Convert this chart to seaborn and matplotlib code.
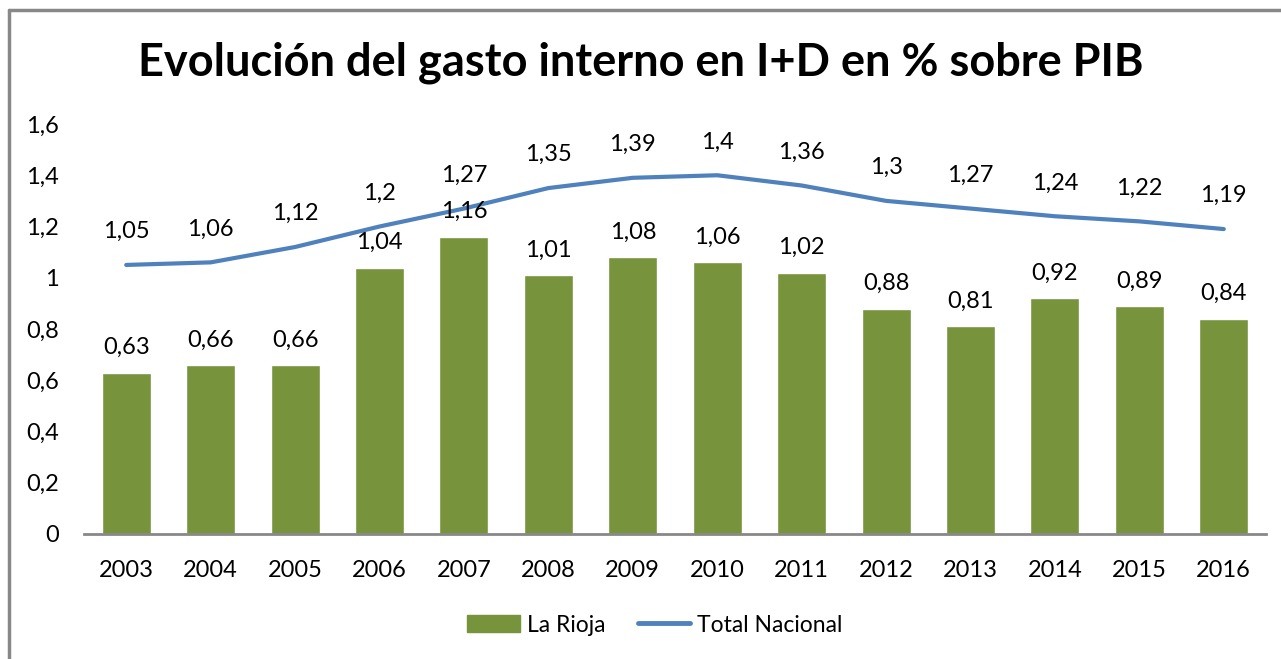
import matplotlib
matplotlib.use("Agg")
import matplotlib.pyplot as plt
import seaborn as sns
import pandas as pd
from matplotlib.patches import Patch
from matplotlib.lines import Line2D

# datos
years = ["2003", "2004", "2005", "2006", "2007", "2008", "2009",
         "2010", "2011", "2012", "2013", "2014", "2015", "2016"]
la_rioja = [0.63, 0.66, 0.66, 1.04, 1.16, 1.01, 1.08, 1.06, 1.02, 0.88, 0.81, 0.92, 0.89, 0.84]
total_nacional = [1.05, 1.06, 1.12, 1.2, 1.27, 1.35, 1.39, 1.4, 1.36, 1.3, 1.27, 1.24, 1.22, 1.19]

green = "#77933C"
blue = "#4F81BD"

df = pd.DataFrame({"year": years, "rioja": la_rioja, "total": total_nacional})

sns.set_style("white")
plt.rcParams['font.family'] = ['Lato', 'DejaVu Sans']

fig = plt.figure(figsize=(12.81, 6.59), dpi=100)
ax = fig.add_axes([84 / 1281, 1 - 534 / 659, (1266 - 84) / 1281, (534 - 124) / 659])

sns.barplot(data=df, x="year", y="rioja", color=green, width=0.58, saturation=1, ax=ax)
sns.lineplot(data=df, x="year", y="total", color=blue, linewidth=3, ax=ax)

ax.set_ylim(0, 1.6)
ax.set_xlim(-0.5, len(years) - 0.5)
ax.set_yticks([0, 0.2, 0.4, 0.6, 0.8, 1, 1.2, 1.4, 1.6])
ax.set_yticklabels(["0", "0,2", "0,4", "0,6", "0,8", "1", "1,2", "1,4", "1,6"])
ax.set_xlabel("")
ax.set_ylabel("")
ax.tick_params(axis="both", length=0, labelsize=17, colors="#000000")
ax.tick_params(axis="y", pad=18)
ax.tick_params(axis="x", pad=19)

for s in ["top", "right", "left"]:
    ax.spines[s].set_visible(False)
ax.spines["bottom"].set_color("#888888")
ax.spines["bottom"].set_linewidth(2)

def fmt(v):
    return f"{v:g}".replace(".", ",")

# etiquetas de datos
for i, v in enumerate(la_rioja):
    ax.annotate(fmt(v), (i, v), xytext=(0, 18), textcoords="offset points",
                ha="center", va="center", fontsize=17, color="#000000")
for i, v in enumerate(total_nacional):
    ax.annotate(fmt(v), (i, v), xytext=(0, 24), textcoords="offset points",
                ha="center", va="center", fontsize=17, color="#000000")

fig.suptitle("Evolución del gasto interno en I+D en % sobre PIB",
             x=0.5, y=1 - 63 / 659, va="center", fontsize=32.5, fontweight="bold",
             color="#000000")

handles = [Patch(facecolor=green, edgecolor=green),
           Line2D([0], [0], color=blue, linewidth=3.5)]
fig.legend(handles, ["La Rioja", "Total Nacional"], loc="center",
           bbox_to_anchor=(655 / 1281, 1 - 625 / 659), ncol=2, frameon=False,
           fontsize=16.5, handlelength=2.3, columnspacing=1.4, handletextpad=0.3,
           labelcolor="#000000")

# marco
fig.add_artist(Line2D([9 / 1281, 9 / 1281], [0, 1 - 10 / 659], color="#888888", linewidth=2.5))
fig.add_artist(Line2D([9 / 1281, 1], [1 - 10 / 659, 1 - 10 / 659], color="#888888", linewidth=2.5))

fig.savefig("out.png", dpi=100)
